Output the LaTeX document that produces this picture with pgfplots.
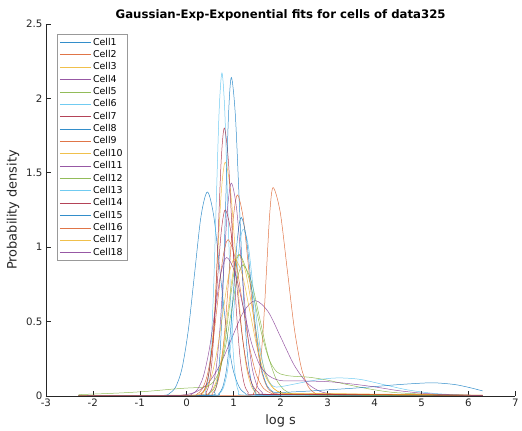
\documentclass[border=0pt]{standalone}
\usepackage{pgfplots}
\pgfplotsset{compat=1.18}
\usepackage{fontspec}
\setmainfont{DejaVu Sans}
\definecolor{c1}{rgb}{0,0.447,0.741}
\definecolor{c2}{rgb}{0.850,0.325,0.098}
\definecolor{c3}{rgb}{0.929,0.694,0.125}
\definecolor{c4}{rgb}{0.494,0.184,0.556}
\definecolor{c5}{rgb}{0.466,0.674,0.188}
\definecolor{c6}{rgb}{0.301,0.745,0.933}
\definecolor{c7}{rgb}{0.635,0.078,0.184}
\definecolor{axgray}{rgb}{0.15,0.15,0.15}
\definecolor{legray}{rgb}{0.6,0.6,0.6}
\begin{document}
\begin{tikzpicture}
\begin{axis}[
  scale only axis, width=471bp, height=373bp,
  xmin=-3, xmax=7, ymin=0, ymax=2.5,
  axis x line*=bottom, axis y line*=left,
  axis line style={-, color=axgray, line width=0.5pt},
  tick align=inside, major tick length=5bp,
  xtick={-3,-2,-1,0,1,2,3,4,5,6,7}, ytick={0,0.5,1,1.5,2,2.5},
  tick style={color=axgray, line width=0.5pt},
  tick label style={font=\fontsize{10.3}{11}\selectfont, color=axgray},
  /pgf/number format/assume math mode=true,
  title={\textbf{Gaussian-Exp-Exponential fits for cells of data325}},
  title style={font=\fontsize{11.8}{13}\selectfont, yshift=-7bp},
  xlabel={log s}, ylabel={Probability density},
  label style={font=\fontsize{13}{14}\selectfont, color=axgray},
  xlabel style={yshift=-1bp},
  legend style={at={(0.0227,0.973)}, anchor=north west,
    font=\fontsize{9.5}{10}\selectfont, draw=legray, line width=0.4pt,
    nodes={text height=7bp, text depth=1.5bp, inner sep=1.95bp},
    row sep=0pt},
  legend cell align=left,
  legend image code/.code={\draw[#1, line width=0.5pt] (0bp,0bp) -- (31bp,0bp);},
  every axis plot/.append style={smooth, tension=0.5, line width=0.5pt, draw opacity=0.8},
]
\addplot[c1] coordinates {(-2.3,0) (-1.2,0.001) (-0.505,0.003) (-0.37,0.015) (-0.235,0.060) (-0.10,0.185) (0.035,0.445) (0.17,0.831) (0.305,1.209) (0.44,1.37) (0.575,1.209) (0.71,0.831) (0.845,0.445) (0.98,0.185) (1.115,0.060) (1.25,0.015) (1.385,0.004) (2.5,0.004) (4.5,0.003) (6.3,0.001)};
\addplot[c2] coordinates {(-2.3,0) (0.5,0.0005) (1.35,0.003) (1.42,0.016) (1.49,0.061) (1.56,0.189) (1.63,0.455) (1.70,0.849) (1.77,1.236) (1.84,1.40) (1.99,1.236) (2.14,0.849) (2.29,0.455) (2.44,0.189) (2.59,0.061) (2.74,0.016) (2.89,0.003) (4.5,0.001) (6.3,0)};
\addplot[c3] coordinates {(-2.3,0) (-0.8,0.002) (0.26,0.004) (0.34,0.017) (0.42,0.069) (0.50,0.212) (0.58,0.510) (0.66,0.952) (0.74,1.386) (0.82,1.57) (0.93,1.386) (1.04,0.952) (1.15,0.510) (1.26,0.212) (1.37,0.069) (1.48,0.020) (1.59,0.008) (2.8,0.006) (4.5,0.004) (6.3,0.002)};
\addplot[c4] coordinates {(-2.3,0) (-1.2,0.001) (-0.29,0.002) (-0.04,0.007) (0.21,0.028) (0.46,0.087) (0.71,0.208) (0.96,0.388) (1.21,0.565) (1.46,0.64) (1.735,0.565) (2.01,0.388) (2.285,0.208) (2.56,0.087) (2.835,0.030) (3.11,0.012) (3.385,0.006) (4.5,0.004) (6.3,0.002)};
\addplot[c5] coordinates {(-2.3,0) (-0.8,0.002) (0.35,0.004) (0.46,0.011) (0.57,0.042) (0.68,0.129) (0.79,0.308) (0.90,0.576) (1.01,0.838) (1.12,0.95) (1.28,0.838) (1.44,0.64) (1.60,0.41) (1.76,0.24) (1.92,0.16) (2.08,0.14) (2.24,0.132) (2.6,0.125) (3.0,0.105) (3.5,0.07) (4.0,0.04) (4.5,0.02) (5.5,0.006) (6.3,0.002)};
\addplot[c6] coordinates {(-2.3,0) (-0.5,0.001) (0.33,0.005) (0.39,0.024) (0.45,0.095) (0.51,0.294) (0.57,0.705) (0.63,1.316) (0.69,1.915) (0.75,2.17) (0.81,1.915) (0.87,1.316) (0.93,0.705) (0.99,0.294) (1.05,0.095) (1.11,0.024) (1.17,0.006) (2.0,0.004) (4.0,0.003) (6.3,0.001)};
\addplot[c7] coordinates {(-2.3,0) (-0.6,0.001) (0.345,0.004) (0.41,0.020) (0.475,0.079) (0.54,0.244) (0.605,0.584) (0.67,1.092) (0.735,1.589) (0.80,1.80) (0.885,1.589) (0.97,1.092) (1.055,0.584) (1.14,0.244) (1.225,0.079) (1.31,0.022) (1.395,0.008) (2.5,0.008) (4.5,0.005) (6.3,0.002)};
\addplot[c1] coordinates {(-2.3,0) (-0.5,0.001) (0.53,0.005) (0.59,0.024) (0.65,0.094) (0.71,0.290) (0.77,0.695) (0.83,1.298) (0.89,1.889) (0.95,2.14) (1.035,1.889) (1.12,1.298) (1.205,0.695) (1.29,0.290) (1.375,0.094) (1.46,0.026) (1.545,0.008) (2.5,0.006) (4.5,0.004) (6.3,0.001)};
\addplot[c2] coordinates {(-2.3,0) (-0.6,0.002) (0.45,0.004) (0.54,0.015) (0.63,0.059) (0.72,0.183) (0.81,0.438) (0.90,0.819) (0.99,1.191) (1.08,1.35) (1.205,1.191) (1.33,0.819) (1.455,0.438) (1.58,0.183) (1.705,0.062) (1.83,0.022) (1.955,0.012) (3.0,0.010) (4.5,0.007) (6.3,0.003)};
\addplot[c3] coordinates {(-2.3,0) (-0.8,0.002) (0.33,0.004) (0.44,0.0105) (0.55,0.042) (0.66,0.129) (0.77,0.308) (0.88,0.576) (0.99,0.838) (1.10,0.95) (1.25,0.838) (1.40,0.576) (1.55,0.308) (1.70,0.135) (1.85,0.05) (2.00,0.02) (2.15,0.014) (3.0,0.012) (4.5,0.008) (6.3,0.003)};
\addplot[c4] coordinates {(-2.3,0) (-0.6,0.001) (0.39,0.003) (0.47,0.016) (0.55,0.063) (0.63,0.193) (0.71,0.464) (0.79,0.867) (0.87,1.262) (0.95,1.43) (1.06,1.262) (1.17,0.867) (1.28,0.464) (1.39,0.193) (1.50,0.066) (1.61,0.022) (1.72,0.010) (3.0,0.008) (4.5,0.005) (6.3,0.002)};
\addplot[c5] coordinates {(-2.3,0.008) (-1.8,0.014) (-1.3,0.021) (-0.8,0.031) (-0.3,0.045) (0.0,0.052) (0.325,0.057) (0.45,0.066) (0.575,0.095) (0.70,0.173) (0.825,0.331) (0.95,0.566) (1.075,0.79) (1.20,0.88) (1.375,0.77) (1.55,0.526) (1.725,0.281) (1.90,0.115) (2.075,0.04) (2.25,0.012) (2.425,0.006) (3.5,0.004) (5.0,0.002) (6.3,0.001)};
\addplot[c6] coordinates {(-2.3,0) (-0.5,0.001) (0.605,0.003) (0.69,0.012) (0.775,0.049) (0.86,0.152) (0.945,0.364) (1.03,0.679) (1.115,0.988) (1.20,1.12) (1.31,1.011) (1.42,0.707) (1.53,0.397) (1.64,0.19) (1.75,0.094) (1.86,0.062) (1.97,0.06) (2.2,0.073) (2.6,0.098) (3.0,0.116) (3.3,0.12) (3.7,0.11) (4.2,0.075) (4.7,0.04) (5.3,0.015) (6.0,0.004) (6.3,0.002)};
\addplot[c7] coordinates {(-2.3,0) (-0.7,0.001) (0.225,0.004) (0.31,0.014) (0.395,0.055) (0.48,0.169) (0.565,0.406) (0.65,0.758) (0.735,1.103) (0.82,1.25) (0.94,1.103) (1.06,0.758) (1.18,0.406) (1.30,0.172) (1.42,0.060) (1.54,0.020) (1.66,0.010) (3.0,0.010) (4.5,0.007) (6.3,0.003)};
\addplot[c1] coordinates {(-2.3,0) (-0.5,0.001) (0.60,0.004) (0.68,0.013) (0.76,0.053) (0.84,0.162) (0.92,0.390) (1.00,0.728) (1.08,1.059) (1.16,1.20) (1.27,1.059) (1.38,0.728) (1.49,0.392) (1.60,0.175) (1.71,0.068) (1.82,0.030) (1.93,0.022) (2.5,0.03) (3.0,0.04) (3.5,0.05) (4.0,0.062) (4.5,0.075) (5.0,0.085) (5.3,0.087) (5.7,0.076) (6.0,0.057) (6.3,0.033)};
\addplot[c2] coordinates {(-2.3,0) (-1.0,0.002) (0.11,0.004) (0.22,0.012) (0.33,0.046) (0.44,0.142) (0.55,0.341) (0.66,0.637) (0.77,0.927) (0.88,1.05) (1.03,0.927) (1.18,0.637) (1.33,0.341) (1.48,0.145) (1.63,0.052) (1.78,0.02) (1.93,0.012) (3.0,0.012) (4.5,0.008) (6.3,0.004)};
\addplot[c3] coordinates {(-2.3,0.001) (-1.0,0.003) (0.145,0.005) (0.27,0.012) (0.395,0.040) (0.52,0.124) (0.645,0.299) (0.77,0.558) (0.895,0.812) (1.02,0.92) (1.185,0.812) (1.35,0.558) (1.515,0.30) (1.68,0.13) (1.845,0.05) (2.01,0.022) (2.175,0.016) (3.0,0.015) (4.5,0.01) (6.3,0.004)};
\addplot[c4] coordinates {(-2.3,0) (-1.2,0.002) (-0.025,0.004) (0.10,0.011) (0.225,0.041) (0.35,0.126) (0.475,0.302) (0.60,0.564) (0.725,0.821) (0.85,0.93) (1.025,0.83) (1.20,0.60) (1.375,0.36) (1.55,0.21) (1.725,0.14) (1.90,0.11) (2.075,0.10) (2.4,0.10) (3.0,0.095) (3.5,0.08) (4.0,0.06) (4.5,0.035) (5.0,0.018) (5.5,0.008) (6.3,0.002)};
\legend{Cell1,Cell2,Cell3,Cell4,Cell5,Cell6,Cell7,Cell8,Cell9,Cell10,Cell11,Cell12,Cell13,Cell14,Cell15,Cell16,Cell17,Cell18}
\coordinate (O) at (rel axis cs:0,0);
\coordinate (T) at (rel axis cs:1,1);
\end{axis}
\path ([xshift=-46bp,yshift=-33bp]O) rectangle ([xshift=5bp,yshift=24bp]T);
\end{tikzpicture}
\end{document}
